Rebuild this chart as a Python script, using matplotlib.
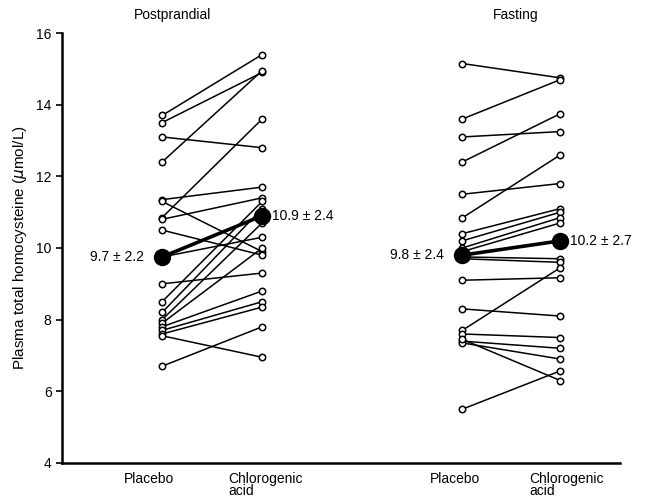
import matplotlib
matplotlib.use("Agg")
import matplotlib.pyplot as plt
import matplotlib.transforms as mtransforms

plt.rcParams["font.family"] = ["Liberation Sans", "DejaVu Sans"]

# Individual subjects: (placebo, chlorogenic acid), plasma tHcy in umol/L
post_placebo = [13.7, 13.5, 13.1, 12.4, 11.35, 11.3, 10.85, 10.8, 10.5, 9.75,
                9.0, 8.5, 8.2, 8.0, 7.9, 7.8, 7.7, 7.6, 7.55, 6.7]
post_cga = [15.4, 14.9, 12.8, 14.95, 11.7, 9.9, 13.6, 11.4, 9.8, 10.3,
            9.3, 11.3, 11.1, 10.7, 10.0, 8.8, 8.5, 8.35, 6.95, 7.8]

fast_placebo = [15.15, 13.6, 13.1, 12.4, 11.5, 10.84, 10.4, 10.2, 10.0, 9.9,
                9.75, 9.7, 9.1, 8.3, 7.7, 7.6, 7.4, 7.35, 7.45, 5.5]
fast_cga = [14.75, 14.7, 13.25, 13.75, 11.8, 12.6, 11.1, 11.0, 10.85, 10.7,
            9.7, 9.6, 9.17, 8.1, 9.45, 7.5, 7.2, 6.9, 6.3, 6.57]

# group means and labels
post_means = [9.75, 10.9]
fast_means = [9.8, 10.2]
post_labels = ["9.7 \u00b1 2.2", "10.9 \u00b1 2.4"]
fast_labels = ["9.8 \u00b1 2.4", "10.2 \u00b1 2.7"]

panel_titles = ["Postprandial", "Fasting"]
tick_names = ["Placebo", "Chlorogenic\nacid", "Placebo", "Chlorogenic\nacid"]

post_x = [1.0, 2.0]
fast_x = [4.0, 4.98]

fig = plt.figure(figsize=(6.53, 5.01), dpi=100)
ax = fig.add_axes([0.095, 0.076, 0.855, 0.858])

def draw_group(xs, before, after, means, labels):
    for a, b in zip(before, after):
        ax.plot(xs, [a, b], color="black", lw=1.1, zorder=2)
        ax.plot(xs, [a, b], linestyle="none", marker="o", ms=4.6,
                mfc="white", mec="black", mew=1.1, zorder=3)
    ax.plot(xs, means, color="black", lw=2.6, marker="o", ms=11.5,
            mfc="black", mec="black", zorder=4)
    ax.text(xs[0] - 0.18, means[0], labels[0], ha="right", va="center",
            fontsize=10)
    ax.text(xs[1] + 0.1, means[1], labels[1], ha="left", va="center",
            fontsize=10)

draw_group(post_x, post_placebo, post_cga, post_means, post_labels)
draw_group(fast_x, fast_placebo, fast_cga, fast_means, fast_labels)

ax.set_xlim(0, 5.58)
ax.set_ylim(4, 16)
ax.set_yticks([4, 6, 8, 10, 12, 14, 16])
ax.tick_params(axis="y", direction="out", length=4, width=1.2, labelsize=10)
ax.tick_params(axis="x", length=0)
ax.set_xticks([])

for s in ["top", "right"]:
    ax.spines[s].set_visible(False)
ax.spines["left"].set_linewidth(1.8)
ax.spines["bottom"].set_linewidth(1.8)

ax.set_ylabel("Plasma total homocysteine ($\\mu$mol/L)", fontsize=11,
              labelpad=5)

# category labels under the axis
trans = mtransforms.blended_transform_factory(ax.transData, ax.transAxes)
ax.text(0.87, -0.02, tick_names[0], transform=trans, ha="center", va="top",
        fontsize=10)
ax.text(1.66, -0.02, tick_names[1], transform=trans, ha="left", va="top",
        fontsize=10, linespacing=0.9)
ax.text(3.93, -0.02, tick_names[2], transform=trans, ha="center", va="top",
        fontsize=10)
ax.text(4.67, -0.02, tick_names[3], transform=trans, ha="left", va="top",
        fontsize=10, linespacing=0.9)

# panel titles
ax.text(1.10, 1.042, panel_titles[0], transform=trans, ha="center",
        va="center", fontsize=10)
ax.text(4.53, 1.042, panel_titles[1], transform=trans, ha="center",
        va="center", fontsize=10)

fig.savefig("out.png", dpi=100)
